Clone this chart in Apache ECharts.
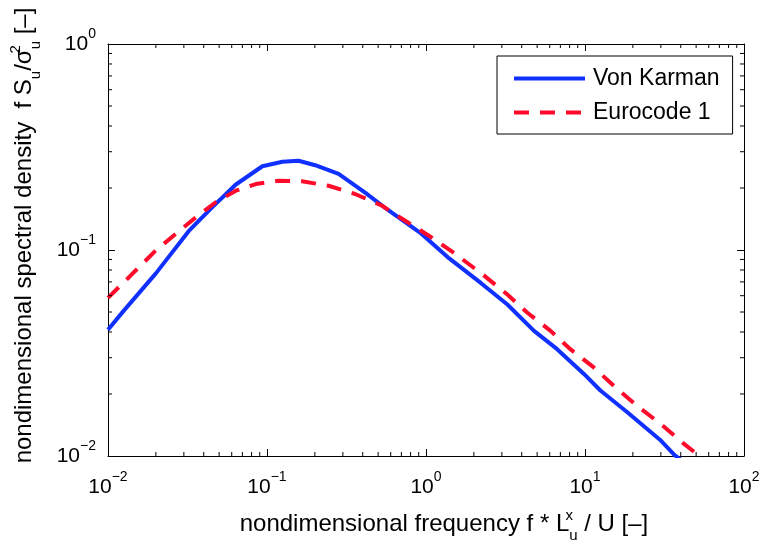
<!DOCTYPE html>
<html>
<head>
<meta charset="utf-8">
<script src="https://cdn.jsdelivr.net/npm/echarts@6/dist/echarts.min.js"></script>
<style>
html,body{margin:0;padding:0;background:#fff;}
#chart{width:762px;height:548px;}
</style>
</head>
<body>
<div id="chart"></div>
<script>
// ---- data ----
var vkFreq  = [0.01, 0.0125, 0.02, 0.0326, 0.0455, 0.0637, 0.0935, 0.125, 0.158, 0.201, 0.282, 0.414, 0.579, 0.935, 1.4, 2.22, 3.25, 4.78, 6.68, 9.81, 12.5, 18.3, 29.6, 36.6, 40];
var vkValue = [0.041, 0.0505, 0.077, 0.125, 0.162, 0.208, 0.255, 0.268, 0.271, 0.258, 0.234, 0.19, 0.156, 0.12, 0.091, 0.069, 0.0544, 0.0405, 0.033, 0.0251, 0.0208, 0.0164, 0.012, 0.0101, 0.0096];
var ecFreq  = [0.01, 0.0137, 0.0201, 0.0268, 0.0358, 0.0478, 0.0637, 0.085, 0.119, 0.166, 0.244, 0.358, 0.526, 0.736, 1.03, 1.51, 2.3, 3.25, 4.34, 6.07, 8.09, 11.3, 15.5, 21.7, 29.6, 41.4, 55];
var ecValue = [0.0586, 0.0744, 0.1, 0.12, 0.1445, 0.171, 0.194, 0.209, 0.217, 0.2155, 0.205, 0.187, 0.1645, 0.139, 0.118, 0.0964, 0.0755, 0.0608, 0.0496, 0.0405, 0.033, 0.027, 0.0216, 0.0173, 0.0144, 0.01155, 0.0097];
var seriesNames = ['Von Karman', 'Eurocode 1'];
var xRange = [0.01, 100];
var yRange = [0.01, 1];
var xMinorTicks = [0.02,0.03,0.04,0.05,0.06,0.07,0.08,0.09, 0.2,0.3,0.4,0.5,0.6,0.7,0.8,0.9, 2,3,4,5,6,7,8,9, 20,30,40,50,60,70,80,90];
var yMinorTicks = [0.02,0.03,0.04,0.05,0.06,0.07,0.08,0.09, 0.2,0.3,0.4,0.5,0.6,0.7,0.8,0.9];
var xTitle = ['nondimensional frequency f * L', 'x', 'u', ' / U [\u2013]'];
var yTitle = ['nondimensional spectral density  f S', 'u', '/\u03c3', '2', 'u', ' [\u2013]'];

var FONT = 'Liberation Sans, Arial, Helvetica, sans-serif';

function zip(a, b) { return a.map(function (v, i) { return [v, b[i]]; }); }

// minor tick marks, placed through the axes' own scales
var minorData = [];
xMinorTicks.forEach(function (v) {
  minorData.push({ value: [v, yRange[0]], symbolSize: [1, 4], symbolOffset: [0, -2] });
  minorData.push({ value: [v, yRange[1]], symbolSize: [1, 4], symbolOffset: [0, 2] });
});
yMinorTicks.forEach(function (v) {
  minorData.push({ value: [xRange[0], v], symbolSize: [4, 1], symbolOffset: [2, 0] });
  minorData.push({ value: [xRange[1], v], symbolSize: [4, 1], symbolOffset: [-2, 0] });
});

function tickLabel(v) {
  var e = Math.round(Math.log(v) / Math.LN10);
  return '{b|10}{s|' + String(e).replace('-', '\u2212') + '}';
}
var tickRich = {
  b: { fontSize: 21, lineHeight: 40, fontFamily: FONT, color: '#000' },
  s: { fontSize: 14, lineHeight: 14, padding: [3, 0, 23, 0], fontFamily: FONT, color: '#000' }
};
var titleRich = {
  t: { fontSize: 24, lineHeight: 40, fontFamily: FONT, color: '#000' },
  sup: { fontSize: 15, lineHeight: 16, padding: [4, 0, 20, 0], fontFamily: FONT, color: '#000' },
  supz: { fontSize: 15, lineHeight: 16, width: 0, padding: [4, 0, 20, 0], fontFamily: FONT, color: '#000' },
  sub: { fontSize: 15, lineHeight: 16, padding: [24, 0, 0, 0], fontFamily: FONT, color: '#000' }
};

var axisCommon = {
  type: 'log', logBase: 10,
  axisLine: { show: true, lineStyle: { color: '#000', width: 1 } },
  axisTick: { show: true, inside: true, length: 7, lineStyle: { color: '#000', width: 1 } },
  splitLine: { show: false },
  minorTick: { show: false },
  nameMoveOverlap: false
};

var chart = echarts.init(document.getElementById('chart'), null, { renderer: 'canvas' });
chart.setOption({
  backgroundColor: '#fff',
  animation: false,
  grid: { left: 108, right: 18, top: 44, bottom: 92, containLabel: false, outerBoundsMode: 'none' },
  legend: {
    data: seriesNames,
    orient: 'vertical',
    left: 497, top: 56,
    padding: [11, 13, 10, 15],
    itemGap: 11,
    itemWidth: 71, itemHeight: 20,
    borderColor: '#000', borderWidth: 1,
    backgroundColor: '#fff',
    itemStyle: { opacity: 0 },
    lineStyle: { width: 4 },
    textStyle: { fontSize: 23, lineHeight: 20, padding: [0, 0, 0, 3], fontFamily: FONT, color: '#000' }
  },
  xAxis: [
    Object.assign({}, axisCommon, {
      min: xRange[0], max: xRange[1], position: 'bottom',
      axisLabel: { show: true, margin: 11, formatter: tickLabel, rich: tickRich },
      name: '{t|' + xTitle[0] + '}{supz|' + xTitle[1] + '}{sub|' + xTitle[2] + '}{t|' + xTitle[3] + '}',
      nameLocation: 'middle', nameGap: 48,
      nameTextStyle: { rich: titleRich, padding: [0, 0, 0, 36] }
    }),
    Object.assign({}, axisCommon, {
      min: xRange[0], max: xRange[1], position: 'top',
      axisLabel: { show: false }
    })
  ],
  yAxis: [
    Object.assign({}, axisCommon, {
      min: yRange[0], max: yRange[1], position: 'left',
      axisLabel: { show: true, margin: 12, formatter: tickLabel, rich: tickRich },
      name: '{t|' + yTitle[0] + '}{sub|' + yTitle[1] + '}{t|' + yTitle[2] + '}{supz|' + yTitle[3] + '}{sub|' + yTitle[4] + '}{t|' + yTitle[5] + '}',
      nameLocation: 'middle', nameGap: 64, nameRotate: 90,
      nameTextStyle: { rich: titleRich, padding: [0, 0, 0, 29] }
    }),
    Object.assign({}, axisCommon, {
      min: yRange[0], max: yRange[1], position: 'right',
      axisLabel: { show: false }
    })
  ],
  series: [
    {
      name: seriesNames[0], type: 'line', data: zip(vkFreq, vkValue),
      symbol: 'none', smooth: false, clip: true,
      lineStyle: { color: '#1030ff', width: 4 },
      itemStyle: { color: '#1030ff' },
      z: 3
    },
    {
      name: seriesNames[1], type: 'line', data: zip(ecFreq, ecValue),
      symbol: 'none', smooth: false, clip: true,
      lineStyle: { color: '#ff0a2a', width: 4, type: [15, 11] },
      itemStyle: { color: '#ff0a2a' },
      z: 4
    },
    {
      name: 'minorTicks', type: 'scatter', data: minorData, silent: true, clip: false,
      symbol: 'rect',
      itemStyle: { color: '#000', opacity: 1 },
      emphasis: { disabled: true },
      z: 5
    }
  ]
});
</script>
</body>
</html>
